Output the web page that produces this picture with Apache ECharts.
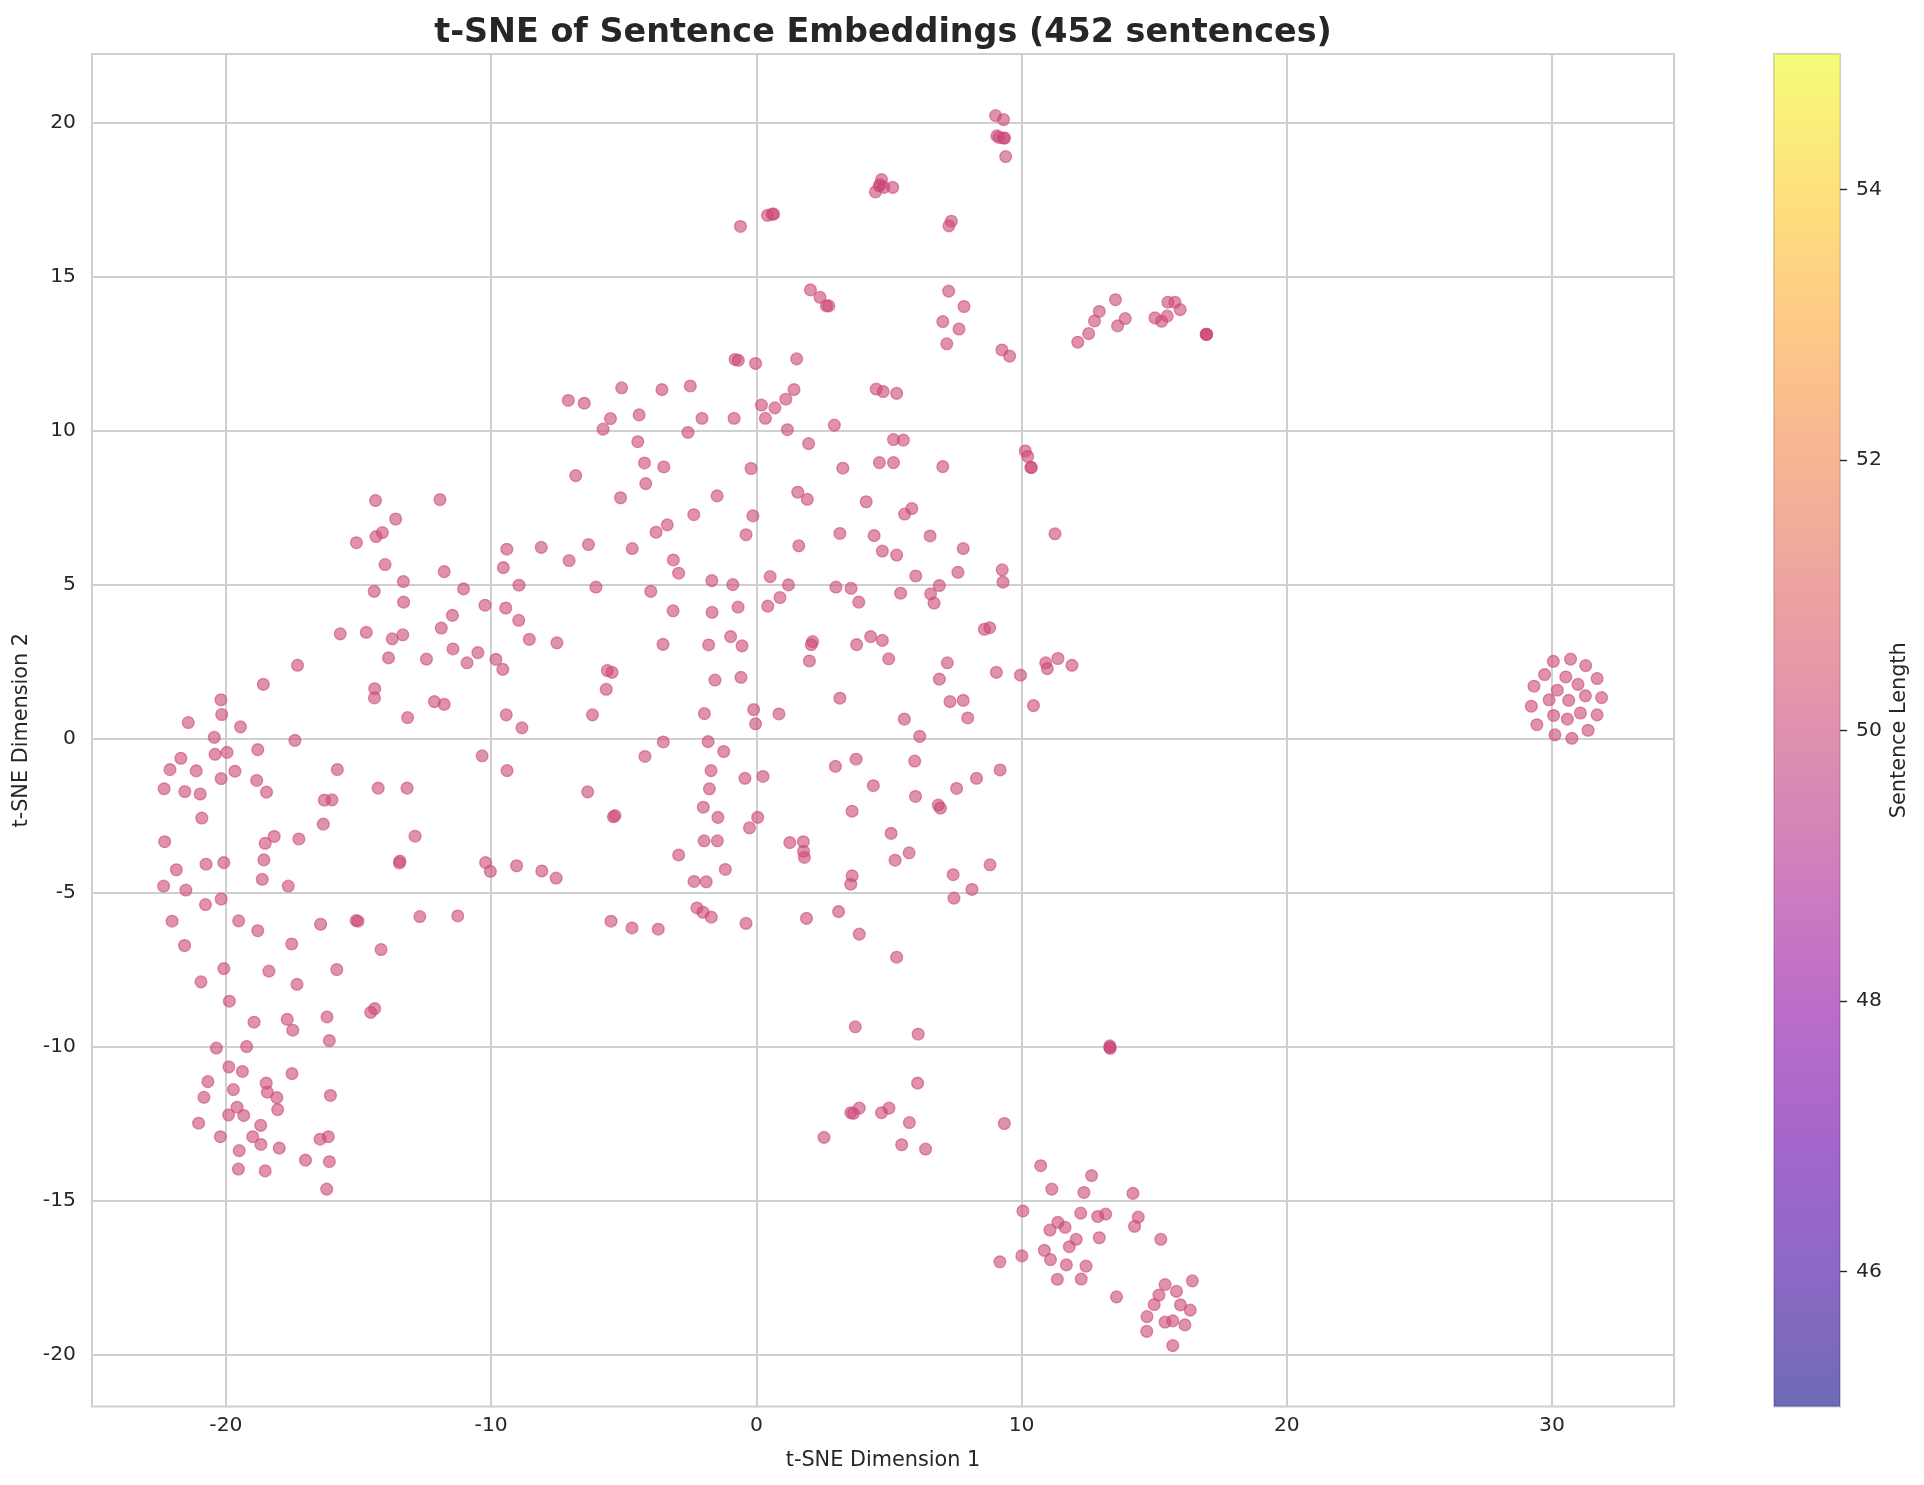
<!DOCTYPE html>
<html>
<head>
<meta charset="utf-8">
<title>t-SNE of Sentence Embeddings</title>
<script src="https://cdn.jsdelivr.net/npm/echarts@6/dist/echarts.min.js"></script>
<style>
  html, body { margin: 0; padding: 0; background: #ffffff; }
  #chart { width: 1924px; height: 1485px; }
</style>
</head>
<body>
<div id="chart"></div>
<script>
// Embedding coordinates [dimension 1, dimension 2], grouped by area of the map.
const westLower = [
  [-20.19,1.26],[-20.16,0.78],[-21.42,0.52],[-19.45,0.38],[-20.44,0.04],[-17.4,-0.06],[-18.8,-0.36],[-21.7,-0.64],
  [-20.41,-0.51],[-19.96,-0.45],[-22.11,-1.01],[-21.12,-1.05],[-19.66,-1.06],[-15.8,-1.01],[-20.18,-1.3],[-18.84,-1.36],
  [-22.33,-1.63],[-21.55,-1.72],[-20.97,-1.8],[-18.47,-1.74],[-14.26,-1.61],[-13.17,-1.61],[-16.29,-2.0],[-16.0,-1.99],
  [-10.34,-0.56],[-9.4,-1.04],[-20.91,-2.58],[-16.33,-2.78],[-22.31,-3.35],[-18.18,-3.18],[-18.52,-3.4],[-17.25,-3.26],
  [-12.87,-3.17],[-18.57,-3.94],[-20.75,-4.08],[-20.08,-4.03],[-13.44,-3.98],[-13.46,-4.04],[-10.21,-4.03],[-10.03,-4.31],
  [-21.87,-4.26],[-18.63,-4.57],[-17.65,-4.79],[-22.35,-4.79],[-21.51,-4.92],[-20.18,-5.21],[-20.77,-5.39],[-22.03,-5.93],
  [-19.52,-5.92],[-18.8,-6.24],[-16.43,-6.03],[-15.09,-5.91],[-15.02,-5.93],[-12.69,-5.78],[-11.26,-5.76],[-21.56,-6.72],
  [-17.52,-6.67],[-14.15,-6.85],[-20.08,-7.47],[-18.38,-7.55],[-15.82,-7.5],[-20.94,-7.9],[-17.32,-7.98],[-19.87,-8.53],
  [-18.94,-9.21],[-17.69,-9.12],[-17.48,-9.47],[-16.19,-9.04],[-14.39,-8.77],[-14.54,-8.89],[-16.1,-9.81],[-20.36,-10.05],
  [-19.22,-10.0]
];
const southWest = [
  [-19.89,-10.66],[-19.38,-10.81],[-17.51,-10.88],[-20.68,-11.14],[-20.83,-11.65],[-19.72,-11.4],[-18.48,-11.19],[-18.44,-11.48],
  [-18.08,-11.66],[-16.06,-11.59],[-18.05,-12.05],[-19.58,-11.97],[-19.9,-12.22],[-19.33,-12.24],[-21.03,-12.49],[-18.69,-12.56],
  [-20.21,-12.93],[-18.99,-12.93],[-18.68,-13.18],[-17.99,-13.3],[-16.45,-13.01],[-16.14,-12.93],[-19.5,-13.38],[-17.0,-13.69],
  [-16.1,-13.74],[-19.53,-13.98],[-18.52,-14.04],[-16.2,-14.63]
];
const westUpper = [
  [-14.36,7.73],[-11.93,7.76],[-13.6,7.13],[-14.1,6.69],[-14.34,6.56],[-15.08,6.36],[-14.0,5.65],[-11.77,5.42],
  [-13.31,5.1],[-14.41,4.78],[-11.04,4.86],[-13.3,4.43],[-10.23,4.33],[-11.46,4.0],[-11.88,3.59],[-15.69,3.4],
  [-14.71,3.45],[-13.73,3.24],[-13.33,3.37],[-11.44,2.91],[-10.5,2.79],[-13.87,2.62],[-12.44,2.58],[-10.91,2.46],
  [-9.82,2.57],[-17.3,2.38],[-18.59,1.76],[-14.39,1.62],[-14.4,1.32],[-12.14,1.2],[-11.77,1.11],[-13.15,0.68]
];
const centreUpper = [
  [-0.8,12.31],[-0.68,12.28],[-0.03,12.18],[1.52,12.33],[-5.08,11.39],[-3.56,11.33],[-2.49,11.45],[-7.09,10.98],
  [-6.49,10.89],[1.42,11.33],[1.11,11.02],[0.7,10.74],[0.19,10.83],[0.34,10.4],[-5.5,10.39],[-4.42,10.51],
  [-2.05,10.4],[-0.84,10.4],[-5.78,10.05],[-2.58,9.94],[1.17,10.03],[2.94,10.18],[4.52,11.35],[4.78,11.27],
  [5.29,11.21],[1.97,9.58],[5.17,9.71],[5.54,9.69],[-4.47,9.64],[-4.22,8.95],[-3.49,8.82],[-0.2,8.77],
  [3.26,8.78],[4.64,8.96],[5.17,8.96],[-6.81,8.54],[-4.17,8.28],[-5.12,7.82],[-1.48,7.88],[1.56,8.0],
  [1.92,7.77],[4.14,7.69],[5.86,7.47],[5.59,7.29],[-2.36,7.27],[-3.36,6.94],[-3.78,6.7],[-0.13,7.23],
  [-0.39,6.62],[3.15,6.66],[1.6,6.26],[4.44,6.59],[4.75,6.09],[5.29,5.96],[-9.41,6.15],[-8.11,6.21],
  [-6.33,6.3],[-4.68,6.17],[-7.06,5.78],[-9.54,5.55],[-3.13,5.8],[-2.93,5.37],[-8.95,4.98],[-6.05,4.92],
  [-3.98,4.78],[-1.68,5.13],[-0.89,5.0],[0.52,5.26],[1.21,4.99],[3.0,4.92],[3.57,4.88],[3.86,4.43],
  [5.44,4.72],[6.01,5.28],[0.89,4.58],[0.43,4.3],[-0.69,4.27],[-1.67,4.1],[-3.14,4.15],[-9.45,4.24],
  [-8.96,3.84],[-8.56,3.22],[-7.52,3.11],[-3.52,3.06],[-1.8,3.04],[-0.97,3.31],[-0.54,3.01],[2.12,3.15],
  [2.07,3.05],[3.78,3.05],[4.31,3.31],[4.75,3.19],[2.0,2.52],[4.99,2.59],[-9.56,2.25],[-5.62,2.21],
  [-5.44,2.15],[-5.66,1.6],[-1.56,1.9],[-0.58,1.99],[3.15,1.31],[-9.43,0.77],[-6.18,0.77],[-1.96,0.81],
  [-0.1,0.94],[-0.03,0.48],[0.85,0.8],[5.58,0.63],[-8.84,0.35],[6.16,0.07]
];
const eastOfCentre = [
  [7.03,8.83],[6.55,6.58],[7.8,6.17],[7.6,5.4],[6.9,4.97],[6.57,4.7],[6.7,4.4],[8.6,3.55],
  [8.8,3.6],[7.2,2.46],[6.9,1.93],[9.05,2.15],[7.3,1.2],[7.8,1.24],[7.97,0.67],
  [10.14,9.34],[10.23,9.16],[10.35,8.81],[10.37,8.8],[11.26,6.65],[9.27,5.48],[9.3,5.08],[10.91,2.46],
  [10.97,2.27],[11.37,2.6],[11.9,2.38],[9.96,2.06],[10.45,1.07]
];
const centreLower = [
  [-3.51,-0.11],[-1.82,-0.1],[-1.23,-0.42],[-4.2,-0.58],[-1.71,-1.04],[-1.77,-1.63],[-0.43,-1.29],[0.25,-1.23],
  [2.98,-0.9],[3.76,-0.67],[4.41,-1.53],[5.97,-0.73],[6.0,-1.88],[-6.36,-1.73],[-5.39,-2.54],[-5.33,-2.5],
  [-2.0,-2.23],[-1.45,-2.56],[0.05,-2.56],[-0.26,-2.9],[3.61,-2.36],[5.08,-3.08],[-1.97,-3.32],[-1.47,-3.32],
  [-2.93,-3.78],[1.26,-3.38],[1.77,-3.35],[1.78,-3.66],[1.81,-3.86],[5.76,-3.71],[5.23,-3.95],[-1.17,-4.25],
  [-9.04,-4.13],[-8.09,-4.3],[-7.55,-4.53],[-2.35,-4.64],[-1.89,-4.65],[3.61,-4.46],[3.56,-4.73],[3.1,-5.62],
  [-2.24,-5.5],[-2.01,-5.64],[-1.7,-5.8],[-5.48,-5.93],[-4.69,-6.15],[-3.7,-6.19],[-0.39,-6.0],[1.89,-5.84],
  [3.88,-6.35],[5.29,-7.1],[3.73,-9.36],[6.1,-9.6]
];
const southCentre = [
  [6.86,-2.16],[6.94,-2.26],[7.55,-1.62],[8.3,-1.29],[9.19,-1.02],[7.42,-4.42],[8.81,-4.1],[8.13,-4.9],
  [7.45,-5.18],[6.08,-11.19],[5.77,-12.47],[9.35,-12.5],[5.48,-13.19],[6.38,-13.33],[13.33,-9.98],[13.33,-10.03],
  [13.34,-10.06],[3.56,-12.15],[3.66,-12.17],[3.88,-12.0],[4.72,-12.15],[5.0,-12.0],[2.55,-12.95]
];
const southEast = [
  [10.72,-13.87],[12.64,-14.19],[11.14,-14.63],[12.35,-14.74],[14.2,-14.77],[10.05,-15.34],[12.23,-15.41],[12.87,-15.52],
  [13.17,-15.44],[14.4,-15.54],[14.26,-15.84],[11.37,-15.71],[11.64,-15.87],[11.07,-15.96],[12.06,-16.26],[12.93,-16.21],
  [11.8,-16.5],[15.25,-16.26],[10.86,-16.62],[10.01,-16.8],[9.18,-16.99],[11.09,-16.92],[11.69,-17.09],[12.43,-17.13],
  [11.35,-17.56],[12.25,-17.55],[13.58,-18.13],[16.44,-17.61],[15.41,-17.73],[15.84,-17.95],[15.18,-18.07],[15.0,-18.38],
  [15.99,-18.39],[16.36,-18.56],[14.73,-18.77],[15.41,-18.95],[15.7,-18.91],[16.16,-19.04],[14.72,-19.25],[15.7,-19.71]
];
const farEast = [
  [30.05,2.51],[30.7,2.58],[31.27,2.37],[29.72,2.08],[30.52,2.0],[31.7,1.95],[30.98,1.76],[29.32,1.7],
  [30.2,1.57],[31.26,1.39],[31.87,1.33],[29.89,1.26],[30.63,1.24],[29.22,1.05],[31.07,0.83],[30.06,0.75],
  [31.7,0.77],[30.58,0.63],[29.43,0.45],[31.36,0.27],[30.11,0.12],[30.75,0.01]
];
const north = [
  [9.02,20.23],[9.32,20.1],[9.07,19.57],[9.15,19.52],[9.32,19.5],[9.36,19.5],[9.4,18.9],[7.35,16.8],
  [7.26,16.65],[7.25,14.53],[7.83,14.03],[7.03,13.54],[7.64,13.3],[7.18,12.82],[9.26,12.62],[9.55,12.42],
  [12.12,12.87],[12.53,13.15],[12.75,13.56],[12.93,13.87],[13.62,13.4],[13.91,13.64],[13.54,14.25],[15.03,13.66],
  [15.28,13.55],[15.49,13.72],[15.52,14.17],[15.78,14.17],[15.98,13.93],[16.96,13.13],[16.98,13.13],[16.97,13.12],
  [-0.6,16.63],[0.42,16.99],[0.6,17.03],[0.65,17.03],[4.49,17.75],[4.63,17.95],[4.72,18.15],[4.67,17.99],
  [4.81,17.9],[5.14,17.9],[2.04,14.57],[2.4,14.33],[2.64,14.05],[2.73,14.05]
];

const xTicks = [-20, -10, 0, 10, 20, 30];
const yTicks = [-20, -15, -10, -5, 0, 5, 10, 15, 20];
const lengthTicks = [46, 48, 50, 52, 54];
const lengthRange = [45, 55];

const titleText = 't-SNE of Sentence Embeddings (452 sentences)';
const xName = 't-SNE Dimension 1';
const yName = 't-SNE Dimension 2';
const barName = 'Sentence Length';

// Plasma colour ramp, translucent like the scatter marks.
const plasma = ['#0d0887','#41049d','#6a00a8','#8f0da4','#b12a90','#cc4778','#e16462','#f1844b','#fca636','#fcce25','#f0f921'];
const barAlpha = 0.6;
function withAlpha(hex, a) {
  const n = parseInt(hex.slice(1), 16);
  return 'rgba(' + (n >> 16) + ',' + ((n >> 8) & 255) + ',' + (n & 255) + ',' + a + ')';
}
const rampStops = plasma.map((c, i) => ({ offset: 1 - i / (plasma.length - 1), color: withAlpha(c, barAlpha) }));

const points = [].concat(westLower, southWest, westUpper, centreUpper, eastOfCentre,
  centreLower, southCentre, southEast, farEast, north);

const ink = '#262626';
const edge = '#cfcfcf';
const font = '"DejaVu Sans", sans-serif';
const chart = echarts.init(document.getElementById('chart'), null, { renderer: 'canvas' });

chart.setOption({
  animation: false,
  backgroundColor: '#ffffff',
  textStyle: { fontFamily: font },
  title: {
    text: titleText,
    left: 878, top: 28, textAlign: 'center', textVerticalAlign: 'middle',
    textStyle: { fontFamily: font, fontWeight: 'bold', fontSize: 33.4, color: ink }
  },
  grid: [
    { left: 92, top: 54, width: 1582, height: 1352.5, show: true, borderColor: edge, borderWidth: 2, backgroundColor: '#ffffff' },
    { left: 1774, top: 54, width: 66, height: 1352.5, show: true, borderColor: edge, borderWidth: 2, backgroundColor: '#ffffff' }
  ],
  xAxis: [
    {
      type: 'value', gridIndex: 0, min: -25.05, max: 34.6,
      name: xName, nameLocation: 'middle', nameGap: 44,
      nameTextStyle: { fontFamily: font, fontSize: 20.8, color: ink },
      axisLine: { show: false },
      axisTick: { show: false, customValues: xTicks },
      axisLabel: { customValues: xTicks, fontFamily: font, fontSize: 20.3, color: ink, margin: 9 },
      splitLine: { show: true, lineStyle: { color: edge, width: 2 } }
    },
    {
      type: 'category', gridIndex: 1, data: [barName],
      axisLine: { show: false }, axisTick: { show: false }, axisLabel: { show: false }, splitLine: { show: false }
    }
  ],
  yAxis: [
    {
      type: 'value', gridIndex: 0, min: -21.69, max: 22.23,
      name: yName, nameLocation: 'middle', nameGap: 53, nameRotate: 90,
      nameTextStyle: { fontFamily: font, fontSize: 20.8, color: ink },
      axisLine: { show: false },
      axisTick: { show: false, customValues: yTicks },
      axisLabel: { customValues: yTicks, fontFamily: font, fontSize: 20.3, color: ink, margin: 16, padding: [2, 0, 0, 0] },
      splitLine: { show: true, lineStyle: { color: edge, width: 2 } }
    },
    {
      type: 'value', gridIndex: 1, position: 'right', min: lengthRange[0], max: lengthRange[1],
      name: barName, nameLocation: 'middle', nameGap: 49, nameRotate: 90,
      nameTextStyle: { fontFamily: font, fontSize: 20.8, color: ink },
      axisLine: { show: false },
      axisTick: { show: true, customValues: lengthTicks, length: 7, lineStyle: { color: ink, width: 1.4 } },
      axisLabel: { customValues: lengthTicks, fontFamily: font, fontSize: 20.3, color: ink, margin: 16, padding: [2, 0, 0, 0] },
      splitLine: { show: false }
    }
  ],
  series: [
    {
      type: 'bar', xAxisIndex: 1, yAxisIndex: 1, data: [lengthRange[1]],
      barWidth: '100%', silent: true,
      itemStyle: { color: new echarts.graphic.LinearGradient(0, 0, 0, 1, rampStops) }
    },
    {
      type: 'scatter', xAxisIndex: 0, yAxisIndex: 0, data: points,
      symbol: 'circle', symbolSize: 11.8, silent: true,
      itemStyle: {
        color: 'rgba(204,71,120,0.6)',
        borderColor: 'rgba(204,71,120,0.6)',
        borderWidth: 1.3,
        opacity: 1
      }
    }
  ]
});
</script>
</body>
</html>
